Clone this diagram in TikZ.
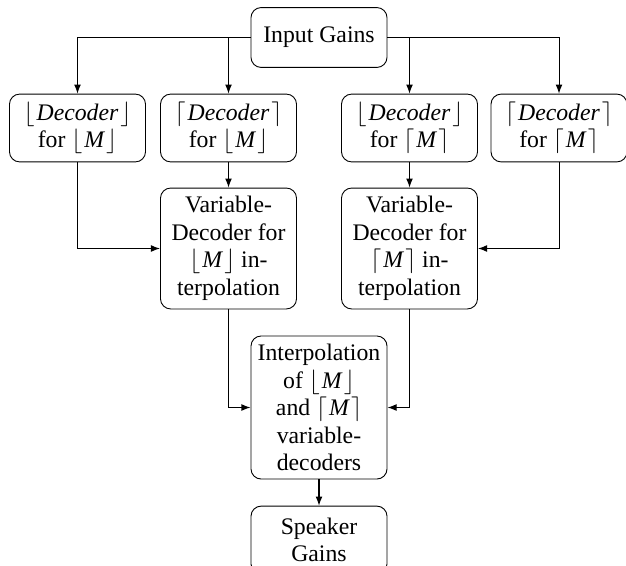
\documentclass[tikz,border=0pt]{standalone}
\usepackage{fontspec}
\setmainfont{Liberation Serif}
\usetikzlibrary{arrows.meta}
\newcommand{\flr}[1]{$\lfloor\mkern1.5mu\mbox{\itshape #1}\mkern1.5mu\rfloor$}
\newcommand{\cel}[1]{$\lceil\mkern1.5mu\mbox{\itshape #1}\mkern1.5mu\rceil$}
\begin{document}
\begin{tikzpicture}[x=0.4425pt,y=-0.4425pt,
  box/.style={draw,rounded corners=4.5pt,align=center,minimum width=60.2pt,inner xsep=2pt,inner ysep=2pt,font=\fontsize{10.5}{12.2}\selectfont},
  one/.style={box,minimum height=26.5pt},
  two/.style={box,minimum height=30pt},
  four/.style={box,minimum height=53.5pt},
  five/.style={box,minimum height=63.3pt},
  arr/.style={-{Latex[length=4pt,width=3pt]},line width=0.45pt}]
\useasboundingbox (0,0) rectangle (626,565);
\node[one] (in) at (319,37.5) {Input Gains};
\node[two] (d1) at (77.5,128) {\flr{Decoder}\\for \flr{M}};
\node[two] (d2) at (228.5,128) {\cel{Decoder}\\for \flr{M}};
\node[two] (d3) at (409.5,128) {\flr{Decoder}\\for \cel{M}};
\node[two] (d4) at (559,128) {\cel{Decoder}\\for \cel{M}};
\node[four] (v1) at (228.5,248.5) {Variable-\\Decoder for\\\flr{M} in-\\terpolation};
\node[four] (v2) at (409.5,248.5) {Variable-\\Decoder for\\\cel{M} in-\\terpolation};
\node[five] (ip) at (319,407.5) {Interpolation\\of \flr{M}\\and \cel{M}\\variable-\\decoders};
\node[two] (sp) at (319,540) {Speaker\\Gains};
\draw[arr] (in.west) -| (d1.north);
\draw[arr] (in.west -| d2.north) -- (d2.north);
\draw[arr] (in.east) -| (d4.north);
\draw[arr] (in.east -| d3.north) -- (d3.north);
\draw[arr] (d2.south) -- (v1.north);
\draw[arr] (d3.south) -- (v2.north);
\draw[arr] (d1.south) |- (v1.west);
\draw[arr] (d4.south) |- (v2.east);
\draw[arr] (v1.south) |- (ip.west);
\draw[arr] (v2.south) |- (ip.east);
\draw[arr] (ip.south) -- (sp.north);
\end{tikzpicture}
\end{document}
